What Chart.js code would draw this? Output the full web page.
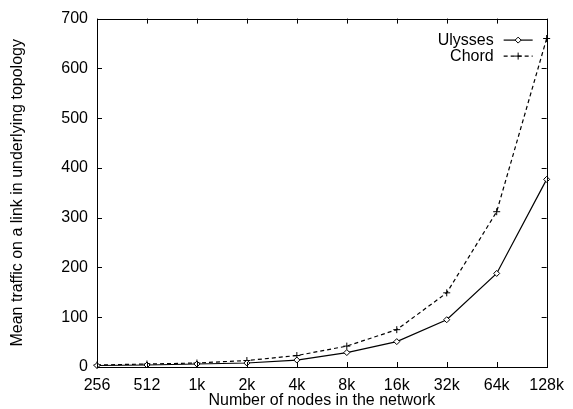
<!DOCTYPE html>
<html>
<head>
<meta charset="utf-8">
<script src="https://cdn.jsdelivr.net/npm/chart.js@4/dist/chart.umd.min.js"></script>
<style>
  html, body { margin: 0; padding: 0; background: #fff; }
  #chart { display: block; }
</style>
</head>
<body>
<canvas id="chart" width="573" height="409"></canvas>
<script>
const nodeCounts = ['256', '512', '1k', '2k', '4k', '8k', '16k', '32k', '64k', '128k'];
const ulyssesTraffic = [3, 4, 6, 8, 14, 29, 51, 95, 188, 377];
const chordTraffic = [4, 6, 8, 13, 23, 42, 75, 149, 312, 660];
const seriesNames = ['Ulysses', 'Chord'];

const FONT = '"Liberation Sans", Arial, Helvetica, sans-serif';
Chart.defaults.font.family = FONT;
Chart.defaults.font.size = 16;
Chart.defaults.color = '#000';

// gnuplot style box: border plus inward ticks on all four sides
const framePlugin = {
    id: 'frame',
    afterDatasetsDraw(chart) {
        const { ctx, chartArea: a, scales } = chart;
        const len = 5;
        ctx.save();
        ctx.strokeStyle = '#000';
        ctx.lineWidth = 1;
        ctx.beginPath();
        scales.x.ticks.forEach((t, i) => {
            const px = Math.round(scales.x.getPixelForTick(i)) + 0.5;
            ctx.moveTo(px, a.bottom); ctx.lineTo(px, a.bottom - len);
            ctx.moveTo(px, a.top); ctx.lineTo(px, a.top + len);
        });
        scales.y.ticks.forEach((t, i) => {
            const py = Math.round(scales.y.getPixelForTick(i)) + 0.5;
            ctx.moveTo(a.left, py); ctx.lineTo(a.left + len, py);
            ctx.moveTo(a.right, py); ctx.lineTo(a.right - len, py);
        });
        ctx.stroke();
        ctx.strokeRect(Math.round(a.left) + 0.5, Math.round(a.top) + 0.5,
            Math.round(a.right - a.left), Math.round(a.bottom - a.top));
        ctx.restore();
    },
    afterDraw(chart) {
        // key in the top right corner, text right aligned before the sample
        const { ctx, chartArea: a } = chart;
        const textRight = a.right - 53;
        const sampleL = a.right - 43, sampleR = a.right - 14;
        ctx.save();
        ctx.font = '16px ' + FONT;
        ctx.textAlign = 'right';
        ctx.textBaseline = 'middle';
        chart.data.datasets.forEach((ds, i) => {
            const y = a.top + 21 + i * 16;
            ctx.fillStyle = '#000';
            ctx.fillText(ds.label, textRight, y + 1);
            ctx.strokeStyle = ds.borderColor;
            ctx.lineWidth = ds.borderWidth;
            ctx.setLineDash(ds.borderDash || []);
            ctx.beginPath();
            ctx.moveTo(sampleL, y + 0.5);
            ctx.lineTo(sampleR, y + 0.5);
            ctx.stroke();
            ctx.setLineDash([]);
            ctx.fillStyle = ds.pointBackgroundColor;
            ctx.strokeStyle = ds.pointBorderColor;
            ctx.lineWidth = 1;
            Chart.helpers.drawPoint(ctx, {
                pointStyle: ds.pointStyle, radius: ds.pointRadius, rotation: 0, borderWidth: 1
            }, (sampleL + sampleR) / 2, y + 0.5);
        });
        ctx.restore();
    }
};

new Chart(document.getElementById('chart'), {
    type: 'line',
    data: {
        labels: nodeCounts,
        datasets: [
            {
                label: seriesNames[0],
                data: ulyssesTraffic,
                borderColor: '#000',
                borderWidth: 1.2,
                pointStyle: 'rectRot',
                pointRadius: 3,
                pointBackgroundColor: '#fff',
                pointBorderColor: '#000',
                pointBorderWidth: 1,
                tension: 0,
                clip: false,
            },
            {
                label: seriesNames[1],
                data: chordTraffic,
                borderColor: '#000',
                borderWidth: 1.2,
                borderDash: [4, 3],
                pointStyle: 'cross',
                pointRadius: 3.5,
                pointBackgroundColor: '#000',
                pointBorderColor: '#000',
                pointBorderWidth: 1,
                tension: 0,
                clip: false,
            },
        ],
    },
    options: {
        responsive: false,
        animation: false,
        layout: { padding: { top: 14, right: 20, left: 0, bottom: 0 } },
        plugins: {
            legend: { display: false },
            tooltip: { enabled: false },
        },
        scales: {
            x: {
                type: 'category',
                offset: false,
                grid: { display: false, drawTicks: false },
                border: { display: false },
                ticks: { autoSkip: false, maxRotation: 0, padding: 9 },
                title: {
                    display: true,
                    text: 'Number of nodes in the network',
                    font: { size: 16, lineHeight: 1 },
                    padding: { top: 0, bottom: 0 },
                },
                afterFit(scale) { scale.height = 42; },
            },
            y: {
                min: 0,
                max: 700,
                grid: { display: false, drawTicks: false },
                border: { display: false },
                ticks: { stepSize: 100, padding: 9 },
                title: {
                    display: true,
                    text: 'Mean traffic on a link in underlying topology',
                    font: { size: 16, lineHeight: 1 },
                    padding: { top: 10, bottom: 0 },
                },
                afterFit(scale) { scale.width = 97; },
            },
        },
    },
    plugins: [framePlugin],
});
</script>
</body>
</html>
